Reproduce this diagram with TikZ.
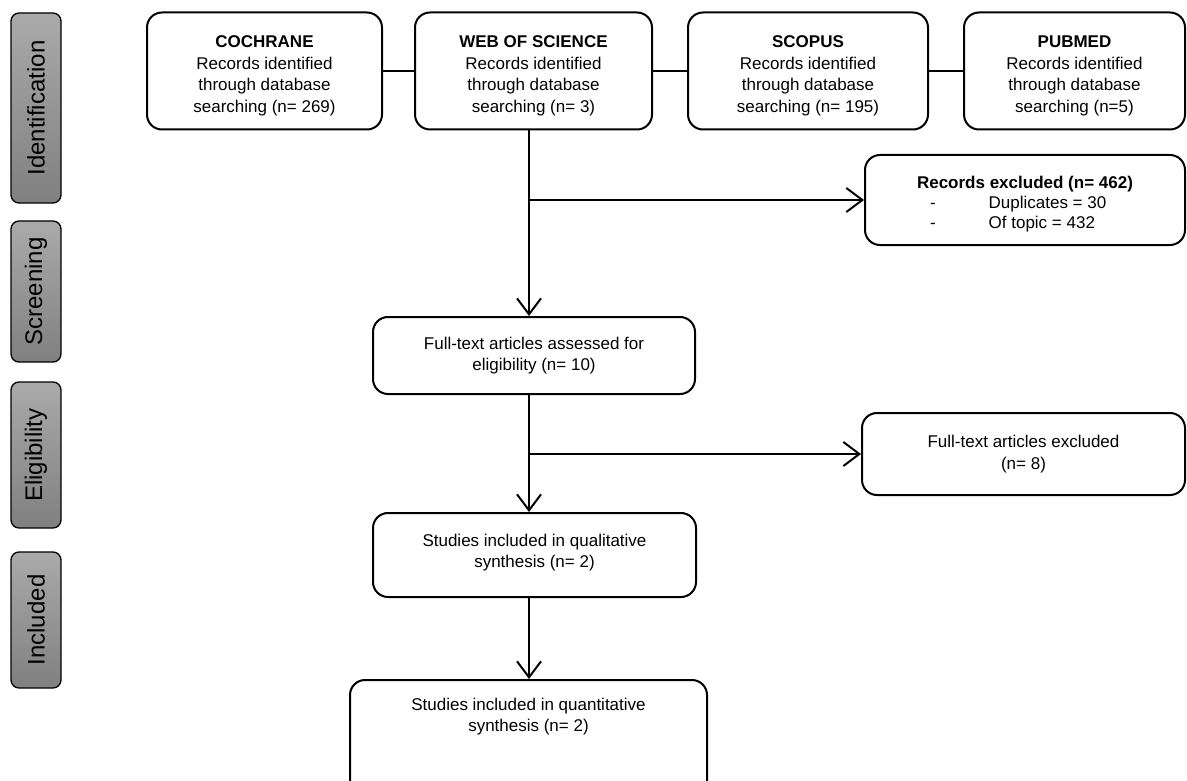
\documentclass[tikz,border=0pt]{standalone}
\usepackage{fontspec}
\setmainfont{Liberation Sans}
\usetikzlibrary{arrows.meta}
\definecolor{barlight}{HTML}{AAAAAA}
\definecolor{bardark}{HTML}{808080}
\begin{document}
\begin{tikzpicture}[x=1pt,y=-1pt,
  box/.style={draw, line width=2pt, rounded corners=15pt, fill=white, align=center,
    font=\fontsize{17}{21.5}\selectfont, inner sep=0pt},
  topbox/.style={box, minimum height=117pt},
  side/.style={draw, line width=1.3pt, rounded corners=8pt, rotate=90,
    top color=barlight, bottom color=bardark, inner sep=0pt,
    font=\fontsize{24}{28}\selectfont, minimum height=50pt},
  link/.style={line width=2pt},
  arr/.style={line width=2pt, -{Straight Barb[length=16pt,width=24pt,line width=2pt]}}
]
\useasboundingbox (0,0) rectangle (1187,781);

% phase bars
\node[side, minimum width=190pt] (idb) at (36,108) {Identification};
\node[side, minimum width=141pt] (scb) at (36,291.5) {Screening};
\node[side, minimum width=146pt] (elb) at (36,455) {Eligibility};
\node[side, minimum width=136pt] (inb) at (36,620) {Included};

% top boxes
\node[topbox, minimum width=235pt] (coch) at (264.5,71)
  {\rule{0pt}{22pt}\textbf{COCHRANE}\\Records identified\\through database\\searching (n= 269)};
\node[topbox, minimum width=237pt] (wos) at (533.5,71)
  {\rule{0pt}{22pt}\textbf{WEB OF SCIENCE}\\Records identified\\through database\\searching (n= 3)};
\node[topbox, minimum width=240pt] (scop) at (808,71)
  {\rule{0pt}{22pt}\textbf{SCOPUS}\\Records identified\\through database\\searching (n= 195)};
\node[topbox, minimum width=221pt] (pub) at (1074.5,71)
  {\rule{0pt}{22pt}\textbf{PUBMED}\\Records identified\\through database\\searching (n=5)};

% excluded 1
\node[box, minimum width=320pt, minimum height=90pt] (exc1) at (1025,200)
  {\rule{0pt}{20pt}\textbf{Records excluded (n= 462)}\\[-1.5pt]
   \makebox[190pt][l]{-\hspace{53pt}Duplicates = 30}\\[-1.5pt]
   \makebox[190pt][l]{-\hspace{53pt}Of topic = 432}};

% full text
\node[box, minimum width=322pt, minimum height=77pt] (full) at (534,355.5)
  {Full-text articles assessed for\\eligibility (n= 10)};

% excluded 2
\node[box, minimum width=323pt, minimum height=82pt] (exc2) at (1023.5,454)
  {Full-text articles excluded\\(n= 8)};

% qualitative
\node[box, minimum width=323pt, minimum height=84pt, text depth=8pt] (qual) at (534.5,555)
  {Studies included in qualitative\\synthesis (n= 2)};

% quantitative
\node[box, minimum width=357pt, minimum height=115pt, anchor=north] (quant) at (528.5,679)
  {\rule{0pt}{30pt}Studies included in quantitative\\synthesis (n= 2)\\[55pt]};

% connectors
\coordinate (sp) at (529,0);
\draw[link] (coch.east) -- (wos.west);
\draw[link] (wos.east) -- (scop.west);
\draw[link] (scop.east) -- (pub.west);
\draw[arr] (wos.south -| sp) -- (full.north -| sp);
\draw[arr] (sp |- exc1.west) -- (exc1.west);
\draw[arr] (full.south -| sp) -- (qual.north -| sp);
\draw[arr] (sp |- exc2.west) -- (exc2.west);
\draw[arr] (qual.south -| sp) -- (quant.north -| sp);
\end{tikzpicture}
\end{document}
